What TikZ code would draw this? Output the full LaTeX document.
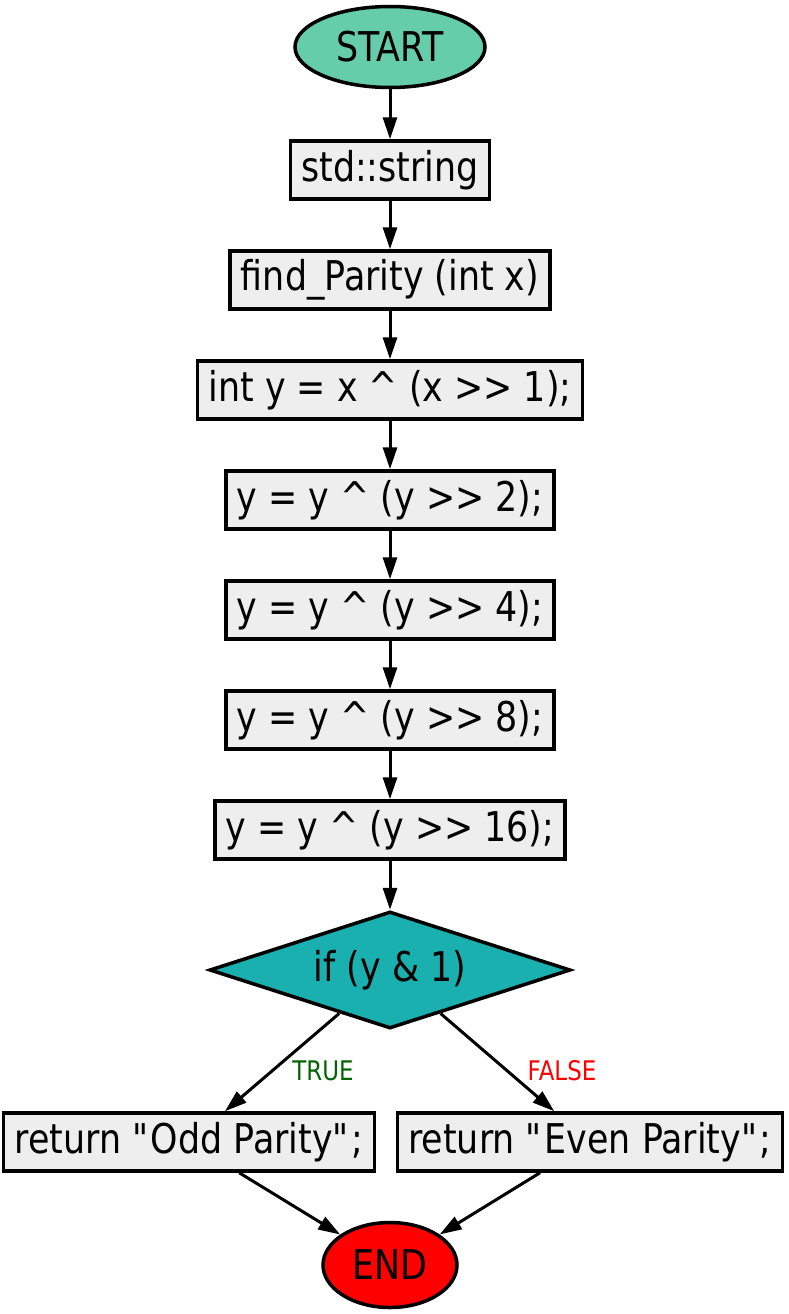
\documentclass[tikz,border=0pt]{standalone}
\usepackage{fontspec}
\setmainfont[FakeStretch=0.85]{DejaVu Sans}
\usepackage{tikz}
\usetikzlibrary{shapes.geometric}
\usetikzlibrary{arrows.meta}
\definecolor{startgreen}{RGB}{102,205,170}
\definecolor{boxgray}{RGB}{238,238,238}
\definecolor{ifteal}{RGB}{26,176,176}
\definecolor{truegreen}{RGB}{0,100,0}

\begin{document}
\begin{tikzpicture}[x=1pt,y=-1pt,
			terminal/.style={ellipse,draw=black,line width=3.5pt,inner sep=0pt,font=\fontsize{41}{49}\selectfont},
			stmt/.style={rectangle,draw=black,fill=boxgray,line width=3.5pt,minimum height=58pt,inner xsep=11pt,inner ysep=0pt,font=\fontsize{41}{49}\selectfont},
			test/.style={diamond,draw=black,fill=ifteal,line width=3.5pt,inner sep=0pt,shape aspect=3.07,minimum width=361pt,minimum height=117pt,font=\fontsize{41}{49}\selectfont},
			flow/.style={draw=black,line width=3pt,-{Triangle[length=22pt,width=14pt]}},
			branch/.style={font=\fontsize{27}{32}\selectfont}
			]
			\useasboundingbox (0,0) rectangle (789,1314);
			
			%% Nodes
			\node[terminal, fill=startgreen, minimum width=190pt, minimum height=81pt] (start) at (390,47) {START};
			\node[stmt] (str) at (390,170) {std::string};
			\node[stmt] (func) at (390,280) {find\_Parity (int x)};
			\node[stmt] (y1) at (390,390) {int y = x \textasciicircum{} (x >{}> 1);};
			\node[stmt] (y2) at (390,500) {y = y \textasciicircum{} (y >{}> 2);};
			\node[stmt] (y4) at (390,610) {y = y \textasciicircum{} (y >{}> 4);};
			\node[stmt] (y8) at (390,720) {y = y \textasciicircum{} (y >{}> 8);};
			\node[stmt] (y16) at (390,830) {y = y \textasciicircum{} (y >{}> 16);};
			\node[test] (odd) at (390,970) {if (y \& 1)};
			\node[stmt] (retodd) at (189,1142) {return \textquotedbl Odd Parity\textquotedbl;};
			\node[stmt] (reteven) at (590,1142) {return \textquotedbl Even Parity\textquotedbl;};
			\node[terminal, fill=red, minimum width=134pt, minimum height=85pt] (end) at (390,1265) {END};
			
			%% Flow
			\draw[flow] (start) -- (str);
			\draw[flow] (str) -- (func);
			\draw[flow] (func) -- (y1);
			\draw[flow] (y1) -- (y2);
			\draw[flow] (y2) -- (y4);
			\draw[flow] (y4) -- (y8);
			\draw[flow] (y8) -- (y16);
			\draw[flow] (y16) -- (odd);
			\draw[flow] (odd) -- (retodd);
			\draw[flow] (odd) -- (reteven);
			\draw[flow] (retodd) -- (end);
			\draw[flow] (reteven) -- (end);
			
			\node[branch, text=truegreen] (lbltrue) at (323,1071) {TRUE};
			\node[branch, text=red] (lblfalse) at (562,1071) {FALSE};
			
			\end{tikzpicture}
\end{document}
